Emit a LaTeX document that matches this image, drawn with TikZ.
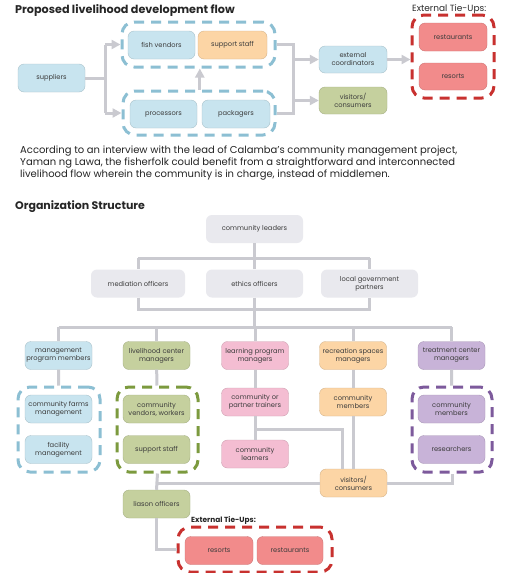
\documentclass[tikz,border=0pt]{standalone}
\usepackage{fontspec}
\setmainfont{Poppins}
\usetikzlibrary{arrows.meta}
\definecolor{boxblue}{HTML}{C8E4EF}
\definecolor{blueline}{HTML}{8CBFD3}
\definecolor{boxorange}{HTML}{FCD5A5}
\definecolor{boxgreen}{HTML}{C5D09E}
\definecolor{greenline}{HTML}{7C9A3E}
\definecolor{boxred}{HTML}{F28B8B}
\definecolor{redline}{HTML}{C8312F}
\definecolor{boxpink}{HTML}{F4BDD2}
\definecolor{boxpurple}{HTML}{C8B3D8}
\definecolor{purpleline}{HTML}{7D5A9C}
\definecolor{boxgray}{HTML}{E9E9EE}
\definecolor{linegray}{HTML}{CACAD0}
\definecolor{txtgray}{HTML}{3C3C3C}
\tikzset{
  box/.style={rectangle, rounded corners=6pt, minimum width=67pt, minimum height=28pt,
    inner sep=0pt, align=center, text=txtgray, font=\fontsize{6.7}{8}\selectfont},
  bluebox/.style={box, fill=boxblue, draw=boxblue!85!black, line width=0.4pt},
  orangebox/.style={box, fill=boxorange, draw=boxorange!85!black, line width=0.4pt},
  greenbox/.style={box, fill=boxgreen, draw=boxgreen!85!black, line width=0.4pt},
  redbox/.style={box, fill=boxred, draw=boxred!85!black, line width=0.4pt},
  pinkbox/.style={box, fill=boxpink, draw=boxpink!85!black, line width=0.4pt},
  purplebox/.style={box, fill=boxpurple, draw=boxpurple!85!black, line width=0.4pt},
  graybox/.style={box, fill=boxgray, minimum width=97pt},
  grp/.style={rectangle, rounded corners=12pt, inner sep=0pt, line width=3pt,
    dash pattern=on 10pt off 7pt},
  conn/.style={draw=linegray, line width=3pt},
  arr/.style={conn, -{Triangle[length=9pt,width=9pt]}},
  heading/.style={anchor=west, inner sep=0pt, text=black!85, font=\bfseries\fontsize{11.2}{13}\selectfont},
}
\begin{document}
\begin{tikzpicture}[x=1pt,y=-1pt]
\useasboundingbox[fill=white] (0,0) rectangle (518,573);

% livelihood flow
\node[heading] (title1) at (15,11) {Proposed livelihood development flow};
\node[grp, draw=blueline, minimum width=153pt, minimum height=45pt] (topgrp) at (198.5,44.5) {};
\node[grp, draw=blueline, minimum width=152pt, minimum height=44pt] (botgrp) at (199,113) {};
\node[bluebox] (sup) at (51.5,78) {suppliers};
\node[bluebox] (fish) at (161.5,45) {fish vendors};
\node[orangebox, minimum width=69pt] (sstaff) at (232.5,45) {support staff};
\node[bluebox] (proc) at (163.5,114) {processors};
\node[bluebox, minimum width=68pt] (pack) at (236,114) {packagers};
\node[bluebox, minimum width=68pt, minimum height=27pt] (extco) at (353,59.5) {external\\coordinators};
\node[greenbox, minimum width=68pt, minimum height=27pt] (vis1) at (353,100.5) {visitors/\\consumers};
\node[anchor=west, inner sep=0pt, font=\fontsize{9}{10}\selectfont, text=txtgray!70!black] (tie1) at (412,9) {External Tie-Ups:};
\node[grp, draw=redline, minimum width=82pt, minimum height=83pt] (redgrp) at (453,56.5) {};
\node[redbox, minimum width=68pt] (rest1) at (453,37) {restaurants};
\node[redbox, minimum width=68pt, minimum height=27pt] (res1) at (453,76.5) {resorts};

\coordinate (sj) at (105,78);
\coordinate (rj) at (293,78);
\draw[conn] (sup) -- (sj);
\draw[conn] (sj |- topgrp) -- (sj |- botgrp);
\draw[arr] (sj |- topgrp.west) -- (topgrp.west);
\draw[arr] (sj |- botgrp.west) -- (botgrp.west);
\draw[arr] ([xshift=2pt]botgrp.north -| sstaff.west) -- ([xshift=2pt]topgrp.south -| sstaff.west);
\draw[conn] (topgrp.east) -| (rj |- botgrp.east) -- (botgrp.east);
\draw[arr] (rj |- extco) -- (extco);
\draw[arr] (rj |- vis1) -- (vis1);
\draw[arr] (extco.east) -- (extco.east -| redgrp.west);

\node[anchor=north west, inner sep=0pt, align=left, font=\fontsize{10}{12}\selectfont, text=txtgray!60!black] (intro) at (20,146)
  {According to an interview with the lead of Calamba's community management project,\\
   Yaman ng Lawa, the fisherfolk could benefit from a straightforward and interconnected\\
   livelihood flow wherein the community is in charge, instead of middlemen.};

% organization structure
\node[heading, font=\bfseries\fontsize{11}{13}\selectfont] (title2) at (15,207) {Organization Structure};
\node[graybox] (lead) at (254.5,229) {community leaders};
\node[graybox, minimum width=94pt] (med) at (138,283.5) {mediation officers};
\node[graybox] (eth) at (254.5,283.5) {ethics officers};
\node[graybox] (loc) at (369.5,283.5) {local government\\partners};

\node[bluebox] (mgmt) at (58.5,355.5) {management\\program members};
\node[greenbox] (livc) at (156.5,355.5) {livelihood center\\managers};
\node[pinkbox] (learn) at (255,355.5) {learning program\\managers};
\node[orangebox] (recr) at (353,355.5) {recreation spaces\\managers};
\node[purplebox] (treat) at (451.5,355.5) {treatment center\\managers};

\node[grp, draw=blueline, minimum width=82pt, minimum height=85pt] (bluegrp) at (59,429.5) {};
\node[grp, draw=greenline, minimum width=81pt, minimum height=85pt] (greengrp) at (157.5,429.5) {};
\node[grp, draw=purpleline, minimum width=80pt, minimum height=85pt] (purplegrp) at (452,429.5) {};

\node[bluebox] (farm) at (58.5,409) {community farms\\management};
\node[bluebox] (fac) at (58.5,449.5) {facility\\management};
\node[greenbox] (vend) at (156.5,409) {community\\vendors, workers};
\node[greenbox] (sstaff2) at (156.5,449.5) {support staff};
\node[pinkbox] (train) at (255,402) {community or\\partner trainers};
\node[pinkbox] (learners) at (255,454) {community\\learners};
\node[orangebox] (cmem) at (353,402) {community\\members};
\node[orangebox] (vis2) at (353.5,483) {visitors/\\consumers};
\node[purplebox] (pmem) at (451.5,409) {community\\members};
\node[purplebox] (rsrch) at (451.5,449.5) {researchers};
\node[greenbox] (liason) at (156.5,504) {liason officers};

\node[anchor=west, inner sep=0pt, font=\bfseries\fontsize{7.4}{9}\selectfont, text=txtgray!60!black] (tie2) at (191,521) {External Tie-Ups:};
\node[grp, draw=redline, minimum width=154pt, minimum height=45pt] (redgrp2) at (255,549.5) {};
\node[redbox, minimum width=68pt] (res2) at (219,550.5) {resorts};
\node[redbox, minimum width=66pt] (rest2) at (290,550.5) {restaurants};

\coordinate (ub) at (254.5,258);
\coordinate (lb) at (254.5,309);
\coordinate (bar) at (254.5,327);
\coordinate (tk) at (255,429);
\draw[conn] (lead) -- (eth);
\draw[conn] (med |- ub) -- (loc |- ub);
\draw[conn] (med |- ub) -- (med.north);
\draw[conn] (loc |- ub) -- (loc.north);
\draw[conn] (med.south) -- (med |- lb) -- (loc |- lb) -- (loc.south);
\draw[conn] (eth) -- (bar);
\draw[conn] (mgmt |- bar) -- (treat |- bar);
\foreach \n in {mgmt,livc,learn,recr,treat}
  \draw[conn] (\n |- bar) -- (\n.north);
\draw[conn] (mgmt) -- (bluegrp);
\draw[conn] (livc) -- (greengrp);
\draw[conn] (treat) -- (purplegrp);
\draw[conn] (learn) -- (train);
\draw[conn] (train) -- (learners);
\draw[conn] (tk) -| ([xshift=-11pt]vis2.north);
\draw[conn] (recr) -- (cmem);
\draw[conn] (cmem.south -| vis2.north) -- (vis2.north);
\draw[conn] (vis2.west) -- (greengrp.south |- vis2.west);
\draw[conn] (vis2.east) -| (purplegrp.south);
\draw[conn] (greengrp.south) -- (liason.north);
\draw[conn] (liason.south) |- (redgrp2.west);
\end{tikzpicture}
\end{document}
